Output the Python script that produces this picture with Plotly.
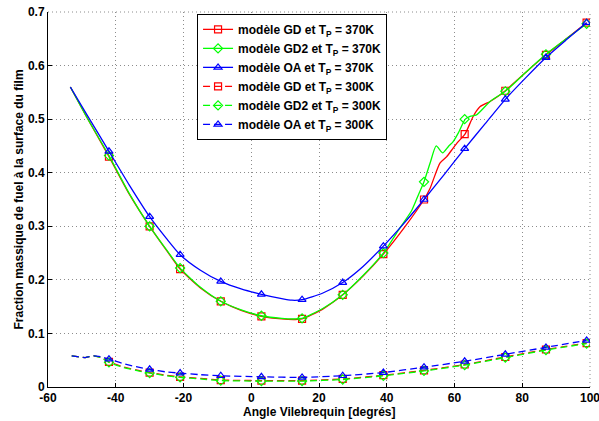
import plotly.graph_objects as go

# ---------------- data ----------------
# 370 K curves (solid) – line samples
gd370_x = [-53.4, -48.5, -42, -36, -30, -25, -21, -15, -9, -3, 3, 9, 13, 15, 21, 27, 33, 39, 45, 51, 52.8, 55.7, 57.7, 59.6, 61.1, 63.1, 65.5, 67.5, 70.5, 73.4, 75, 81, 87, 93, 99]
gd370_y = [0.56, 0.503, 0.43, 0.36, 0.30, 0.255, 0.22, 0.185, 0.16, 0.143, 0.132, 0.127, 0.126, 0.127, 0.145, 0.172, 0.207, 0.248, 0.296, 0.35, 0.371, 0.418, 0.43, 0.446, 0.458, 0.472, 0.505, 0.523, 0.533, 0.545, 0.553, 0.587, 0.62, 0.65, 0.68]

gd2_370_x = [-53.4, -48.5, -42, -36, -30, -25, -21, -15, -9, -3, 3, 9, 13, 15, 21, 27, 33, 39, 43.9, 47.4, 49.3, 51, 52.8, 54.6, 56.5, 58.2, 59.6, 61.1, 63.2, 64.6, 66.5, 70.5, 75, 81, 87, 93, 99]
gd2_370_y = [0.56, 0.503, 0.432, 0.361, 0.30, 0.256, 0.222, 0.186, 0.16, 0.144, 0.133, 0.128, 0.127, 0.128, 0.146, 0.172, 0.208, 0.25, 0.297, 0.33, 0.358, 0.383, 0.418, 0.45, 0.437, 0.449, 0.458, 0.474, 0.50, 0.505, 0.508, 0.533, 0.552, 0.587, 0.621, 0.65, 0.678]

oa370_x = [-53.4, -48.5, -42, -36, -30, -25, -21, -15, -9, -3, 3, 9, 12, 15, 21, 27, 33, 39, 45, 51, 57, 63, 69, 75, 81, 87, 93, 99]
oa370_y = [0.56, 0.508, 0.44, 0.377, 0.318, 0.277, 0.247, 0.218, 0.197, 0.183, 0.173, 0.165, 0.162, 0.163, 0.175, 0.195, 0.225, 0.263, 0.305, 0.35, 0.397, 0.445, 0.491, 0.537, 0.577, 0.615, 0.648, 0.68]

# 300 K curves (dashed) – line samples
x300 = [-53, -49, -46.5, -44, -42, -38, -34, -30, -25, -21, -15, -9, 3, 15, 27, 39, 51, 63, 75, 87, 99]
gd300_y = [0.058, 0.055, 0.058, 0.054, 0.047, 0.038, 0.032, 0.027, 0.022, 0.019, 0.016, 0.013, 0.012, 0.012, 0.015, 0.022, 0.031, 0.042, 0.056, 0.070, 0.082]
gd2_300_y = [0.058, 0.055, 0.058, 0.054, 0.046, 0.037, 0.031, 0.026, 0.021, 0.018, 0.015, 0.012, 0.011, 0.011, 0.014, 0.021, 0.030, 0.041, 0.055, 0.069, 0.081]
oa300_y = [0.058, 0.055, 0.058, 0.056, 0.052, 0.044, 0.038, 0.033, 0.028, 0.026, 0.023, 0.021, 0.019, 0.018, 0.021, 0.027, 0.037, 0.048, 0.061, 0.074, 0.087]

# marker positions
mk_x = [-42, -30, -21, -9, 3, 15, 27, 39, 51, 63, 75, 87, 99]
gd370_m = [0.43, 0.30, 0.22, 0.16, 0.132, 0.127, 0.172, 0.248, 0.35, 0.472, 0.553, 0.62, 0.68]
gd2_370_m = [0.432, 0.30, 0.222, 0.16, 0.133, 0.128, 0.172, 0.25, 0.383, 0.50, 0.552, 0.621, 0.678]
oa370_m = [0.44, 0.318, 0.247, 0.197, 0.173, 0.163, 0.195, 0.263, 0.35, 0.445, 0.537, 0.615, 0.68]
gd300_m = [0.047, 0.027, 0.019, 0.013, 0.012, 0.012, 0.015, 0.022, 0.031, 0.042, 0.056, 0.070, 0.082]
gd2_300_m = [0.046, 0.026, 0.018, 0.012, 0.011, 0.011, 0.014, 0.021, 0.030, 0.041, 0.055, 0.069, 0.081]
oa300_m = [0.052, 0.033, 0.026, 0.021, 0.019, 0.018, 0.021, 0.027, 0.037, 0.048, 0.061, 0.074, 0.087]

labels = ["modèle GD et T<sub>P</sub> = 370K",
          "modèle GD2 et T<sub>P</sub> = 370K",
          "modèle OA et T<sub>P</sub> = 370K",
          "modèle GD et T<sub>P</sub> = 300K",
          "modèle GD2 et T<sub>P</sub> = 300K",
          "modèle OA et T<sub>P</sub> = 300K"]

xticks = [-60, -40, -20, 0, 20, 40, 60, 80, 100]
xticktext = ["-60", "-40", "-20", "0", "20", "40", "60", "80", "100"]
yticks = [0, 0.1, 0.2, 0.3, 0.4, 0.5, 0.6, 0.7]
yticktext = ["0", "0.1", "0.2", "0.3", "0.4", "0.5", "0.6", "0.7"]

x_title = "Angle Vilebrequin [degrés]"
y_title = "Fraction massique de fuel à la surface du film"

# ---------------- figure ----------------
RED, GREEN, BLUE = "#ff0000", "#00ff00", "#0000ff"
DASH = "7px,4px"
LW = 1.3
GRIDC = "#8c8c8c"
GRIDDASH = "1px,3px"
series = [
    (gd370_x, gd370_y, gd370_m, RED, "square-open", "solid", labels[0]),
    (gd2_370_x, gd2_370_y, gd2_370_m, GREEN, "diamond-open", "solid", labels[1]),
    (oa370_x, oa370_y, oa370_m, BLUE, "triangle-up-open", "solid", labels[2]),
    (x300, gd300_y, gd300_m, RED, "square-open", DASH, labels[3]),
    (x300, gd2_300_y, gd2_300_m, GREEN, "diamond-open", DASH, labels[4]),
    (x300, oa300_y, oa300_m, BLUE, "triangle-up-open", DASH, labels[5]),
]

fig = go.Figure()
for xs, ys, ms, col, sym, dash, name in series:
    fig.add_trace(go.Scatter(x=xs, y=ys, mode="lines", showlegend=False,
                             line=dict(color=col, width=LW, dash=dash, shape="spline", smoothing=0.6),
                             hoverinfo="skip"))
    fig.add_trace(go.Scatter(x=mk_x, y=ms, mode="markers", showlegend=False,
                             marker=dict(symbol=sym, color=col, size=7, line=dict(color=col, width=1.2))))
for xs, ys, ms, col, sym, dash, name in series:
    fig.add_trace(go.Scatter(x=[None], y=[None], mode="lines+markers", name=name,
                             line=dict(color=col, width=LW, dash=dash),
                             marker=dict(symbol=sym, color=col, size=7, line=dict(color=col, width=1.2))))

font = dict(family="Liberation Sans, Arial, sans-serif", size=12, color="black", weight="bold")
axis_common = dict(showline=True, linecolor="black", linewidth=1, mirror=False,
                   ticks="inside", ticklen=4, tickcolor="black",
                   showgrid=True, gridcolor=GRIDC, gridwidth=1, griddash=GRIDDASH,
                   zeroline=False, tickfont=font, automargin=False,
                   ticklabeloverflow="allow")

fig.update_layout(
    width=599, height=421,
    margin=dict(l=48, r=9, t=12, b=34),
    paper_bgcolor="white", plot_bgcolor="white",
    font=font,
    xaxis=dict(range=[-60, 100], tickvals=xticks, ticktext=xticktext, **axis_common),
    yaxis=dict(range=[0, 0.7], tickvals=yticks, ticktext=yticktext, **axis_common),
    legend=dict(x=0.275, y=0.995, xanchor="left", yanchor="top",
                bgcolor="white", bordercolor="black", borderwidth=1,
                font=font, tracegroupgap=0, itemwidth=30),
    shapes=[
        dict(type="line", xref="paper", yref="paper", x0=0, x1=1, y0=1, y1=1,
             line=dict(color=GRIDC, width=1, dash=GRIDDASH), layer="below"),
        dict(type="line", xref="paper", yref="paper", x0=1, x1=1, y0=0, y1=1,
             line=dict(color=GRIDC, width=1, dash=GRIDDASH), layer="below"),
    ],
    annotations=[
        dict(text=x_title, xref="paper", yref="paper", x=0.5, y=0, yanchor="middle",
             yshift=-25, showarrow=False, font=font),
        dict(text=y_title, xref="paper", yref="paper", x=0, y=0.5, xanchor="center",
             xshift=-30, textangle=-90, showarrow=False, font=font),
    ],
)

fig.write_html("out.html", config={"displayModeBar": False},
               post_script="document.body.style.margin='0';")
